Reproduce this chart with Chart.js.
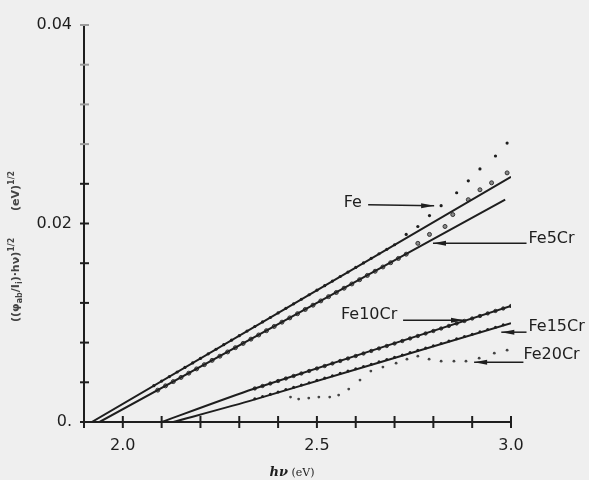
<!DOCTYPE html>
<html>
<head>
<meta charset="utf-8">
<script src="https://cdn.jsdelivr.net/npm/chart.js@4.4.0/dist/chart.umd.min.js"></script>
<style>
  html, body { margin: 0; padding: 0; background: #efefef; }
  #wrap { width: 589px; height: 480px; }
</style>
</head>
<body>
<div id="wrap"><canvas id="chart" width="589" height="480"></canvas></div>
<script>
// measured points, photon energy (eV) vs ((phi_ab/I_i).hv)^1/2
const feX = [2.08, 2.10, 2.12, 2.14, 2.16, 2.18, 2.20, 2.22, 2.24, 2.26, 2.28, 2.30, 2.32, 2.34, 2.36, 2.38,
  2.40, 2.42, 2.44, 2.46, 2.48, 2.50, 2.52, 2.54, 2.56, 2.58, 2.60, 2.62, 2.64, 2.66, 2.68, 2.70,
  2.73, 2.76, 2.79, 2.82, 2.86, 2.89, 2.92, 2.96, 2.99];
const feY = [0.00366, 0.00412, 0.00458, 0.00504, 0.00550, 0.00595, 0.00641, 0.00687, 0.00733, 0.00779,
  0.00824, 0.00870, 0.00916, 0.00962, 0.01008, 0.01053, 0.01099, 0.01145, 0.01191, 0.01237,
  0.01282, 0.01328, 0.01374, 0.01420, 0.01466, 0.01511, 0.01557, 0.01603, 0.01649, 0.01695,
  0.01740, 0.01786, 0.0189, 0.0197, 0.0208, 0.0218, 0.0231, 0.0243, 0.0255, 0.0268, 0.0281];

const fe5CrX = [2.09, 2.11, 2.13, 2.15, 2.17, 2.19, 2.21, 2.23, 2.25, 2.27, 2.29, 2.31, 2.33, 2.35, 2.37, 2.39,
  2.41, 2.43, 2.45, 2.47, 2.49, 2.51, 2.53, 2.55, 2.57, 2.59, 2.61, 2.63, 2.65, 2.67, 2.69, 2.71, 2.73,
  2.76, 2.79, 2.83, 2.85, 2.89, 2.92, 2.95, 2.99];
const fe5CrY = [0.00321, 0.00364, 0.00407, 0.00449, 0.00492, 0.00535, 0.00578, 0.00621, 0.00663, 0.00706,
  0.00749, 0.00792, 0.00835, 0.00877, 0.00920, 0.00963, 0.01006, 0.01049, 0.01091, 0.01134,
  0.01177, 0.01220, 0.01263, 0.01305, 0.01348, 0.01391, 0.01434, 0.01477, 0.01519, 0.01562,
  0.01605, 0.01648, 0.01691, 0.0180, 0.0189, 0.0197, 0.0209, 0.0224, 0.0234, 0.0241, 0.0251];

const fe10CrX = [2.34, 2.36, 2.38, 2.40, 2.42, 2.44, 2.46, 2.48, 2.50, 2.52, 2.54, 2.56, 2.58, 2.60, 2.62, 2.64,
  2.66, 2.68, 2.70, 2.72, 2.74, 2.76, 2.78, 2.80, 2.82, 2.84, 2.86, 2.88, 2.90, 2.92, 2.94, 2.96, 2.98, 3.00];
const fe10CrY = [0.00338, 0.00363, 0.00388, 0.00413, 0.00438, 0.00464, 0.00489, 0.00514, 0.00539, 0.00564,
  0.00590, 0.00615, 0.00640, 0.00665, 0.00690, 0.00716, 0.00741, 0.00766, 0.00791, 0.00816,
  0.00842, 0.00867, 0.00892, 0.00917, 0.00942, 0.00968, 0.00993, 0.01018, 0.01043, 0.01068,
  0.01094, 0.01119, 0.01144, 0.01169];

const fe15CrX = [2.34, 2.36, 2.38, 2.40, 2.42, 2.44, 2.46, 2.48, 2.50, 2.52, 2.54, 2.56, 2.58, 2.60, 2.62, 2.64,
  2.66, 2.68, 2.70, 2.72, 2.74, 2.76, 2.78, 2.80, 2.82, 2.84, 2.86, 2.88, 2.90, 2.92, 2.94, 2.96, 2.98];
const fe15CrY = [0.00233, 0.00257, 0.00280, 0.00303, 0.00327, 0.00350, 0.00373, 0.00396, 0.00420, 0.00443,
  0.00466, 0.00490, 0.00513, 0.00536, 0.00559, 0.00583, 0.00606, 0.00629, 0.00653, 0.00676,
  0.00699, 0.00722, 0.00746, 0.00769, 0.00792, 0.00816, 0.00839, 0.00862, 0.00885, 0.00909,
  0.00932, 0.00955, 0.00979];

const fe20CrX = [2.432, 2.453, 2.479, 2.505, 2.533, 2.556, 2.582, 2.611, 2.639, 2.670,
  2.704, 2.732, 2.760, 2.789, 2.820, 2.853, 2.884, 2.918, 2.957, 2.990];
const fe20CrY = [0.00251, 0.00231, 0.00241, 0.00251, 0.00251, 0.00271, 0.00332, 0.00422, 0.00513, 0.00553,
  0.00593, 0.00633, 0.00663, 0.00633, 0.00613, 0.00613, 0.00613, 0.00643, 0.00693, 0.00724];

// fitted lines
const feLineX = [1.92, 3.0];
const feLineY = [0, 0.0247];
const fe5CrLineX = [1.94, 2.985];
const fe5CrLineY = [0, 0.0224];
const fe10CrLineX = [2.10, 2.334, 3.0];
const fe10CrLineY = [0, 0.0033, 0.0117];
const fe15CrLineX = [2.13, 2.334, 3.0];
const fe15CrLineY = [0, 0.0022, 0.00995];

// tick labels
const xLabelValues = [2.0, 2.5, 3.0];
const xLabelTexts = ['2.0', '2.5', '3.0'];
const yLabelValues = [0, 0.02, 0.04];
const yLabelTexts = ['0.', '0.02', '0.04'];

const seriesNames = ['Fe', 'Fe5Cr', 'Fe10Cr', 'Fe15Cr', 'Fe20Cr'];

// where each name and its arrow sit, in data units
const nameSpots = [
  { at: [2.569, 0.0221], from: [2.632, 0.0219], to: [2.802, 0.0218] },
  { at: [3.045, 0.0185], from: [3.040, 0.0180], to: [2.799, 0.0180] },
  { at: [2.562, 0.01075], from: [2.722, 0.01025], to: [2.879, 0.01025] },
  { at: [3.045, 0.00955], from: [3.040, 0.00905], to: [2.975, 0.00905] },
  { at: [3.032, 0.00673], from: [3.032, 0.00603], to: [2.905, 0.00603] }
];

const zip = (xs, ys) => xs.map((x, i) => ({ x, y: ys[i] }));
const ink = '#1e1e1e';

function labelFor(values, texts, v) {
  const i = values.findIndex(t => Math.abs(t - v) < 1e-6);
  return i < 0 ? '' : texts[i];
}

function drawArrow(ctx, x1, y1, x2, y2) {
  ctx.beginPath();
  ctx.moveTo(x1, y1);
  ctx.lineTo(x2, y2);
  ctx.stroke();
  const dir = Math.sign(x2 - x1) || 1;
  ctx.beginPath();
  ctx.moveTo(x2, y2);
  ctx.lineTo(x2 - dir * 13, y2 - 2.5);
  ctx.lineTo(x2 - dir * 13, y2 + 2.5);
  ctx.closePath();
  ctx.fill();
}

const extras = {
  id: 'extras',
  afterDraw(chart) {
    const ctx = chart.ctx;
    const xs = chart.scales.x, ys = chart.scales.y;
    const area = chart.chartArea;
    ctx.save();

    // crossing tick marks
    ctx.lineWidth = 2;
    ctx.strokeStyle = ink;
    xs.ticks.forEach(t => {
      const px = xs.getPixelForValue(t.value);
      ctx.beginPath();
      ctx.moveTo(px, area.bottom - 6);
      ctx.lineTo(px, area.bottom + 6);
      ctx.stroke();
    });
    ys.ticks.forEach(t => {
      const py = ys.getPixelForValue(t.value);
      ctx.strokeStyle = t.value > 0.026 ? '#9c9c9c' : ink;
      ctx.beginPath();
      ctx.moveTo(area.left - 4, py);
      ctx.lineTo(area.left + 5, py);
      ctx.stroke();
    });

    // series names with arrows
    ctx.strokeStyle = ink;
    ctx.fillStyle = ink;
    ctx.lineWidth = 1.5;
    ctx.font = '16px "DejaVu Sans"';
    ctx.textAlign = 'left';
    ctx.textBaseline = 'middle';
    nameSpots.forEach((s, i) => {
      ctx.fillText(seriesNames[i], xs.getPixelForValue(s.at[0]), ys.getPixelForValue(s.at[1]));
      drawArrow(ctx,
        xs.getPixelForValue(s.from[0]), ys.getPixelForValue(s.from[1]),
        xs.getPixelForValue(s.to[0]), ys.getPixelForValue(s.to[1]));
    });

    // x axis title
    ctx.textBaseline = 'alphabetic';
    ctx.font = 'italic bold 13px "DejaVu Serif"';
    const w1 = ctx.measureText('hν').width;
    ctx.font = '11px "DejaVu Serif"';
    const w2 = ctx.measureText(' (eV)').width;
    let x0 = 292 - (w1 + w2) / 2;
    ctx.font = 'italic bold 13px "DejaVu Serif"';
    ctx.fillText('hν', x0, 476);
    ctx.font = '11px "DejaVu Serif"';
    ctx.fillText(' (eV)', x0 + w1, 476);

    // y axis title, rotated
    ctx.translate(19, 322);
    ctx.rotate(-Math.PI / 2);
    ctx.fillStyle = '#444';
    const parts = [
      ['((φ', 11, 0], ['ab', 8, 3], ['/I', 11, 0], ['i', 8, 3], [')·hν)', 11, 0], ['1/2', 8, -5],
      ['       (eV)', 11, 0], ['1/2', 8, -5]
    ];
    let cx = 0;
    parts.forEach(([txt, size, dy]) => {
      ctx.font = 'bold ' + size + 'px "DejaVu Sans"';
      ctx.fillText(txt, cx, dy);
      cx += ctx.measureText(txt).width;
    });
    ctx.restore();
  }
};

const lineStyle = { showLine: true, borderColor: ink, borderWidth: 2, pointRadius: 0, tension: 0.2, fill: false };

new Chart(document.getElementById('chart'), {
  type: 'scatter',
  data: {
    datasets: [
      { label: 'Fe fit', data: zip(feLineX, feLineY), ...lineStyle },
      { label: 'Fe5Cr fit', data: zip(fe5CrLineX, fe5CrLineY), ...lineStyle },
      { label: 'Fe10Cr fit', data: zip(fe10CrLineX, fe10CrLineY), ...lineStyle },
      { label: 'Fe15Cr fit', data: zip(fe15CrLineX, fe15CrLineY), ...lineStyle },
      { label: 'Fe', data: zip(feX, feY), pointRadius: 1.6, backgroundColor: ink, borderWidth: 0 },
      { label: 'Fe5Cr', data: zip(fe5CrX, fe5CrY), pointRadius: 2, backgroundColor: '#8a8a8a', borderColor: '#333', borderWidth: 1 },
      { label: 'Fe10Cr', data: zip(fe10CrX, fe10CrY), pointRadius: 1.7, backgroundColor: '#555', borderColor: ink, borderWidth: 0.8 },
      { label: 'Fe15Cr', data: zip(fe15CrX, fe15CrY), pointRadius: 1.5, backgroundColor: ink, borderWidth: 0 },
      { label: 'Fe20Cr', data: zip(fe20CrX, fe20CrY), pointRadius: 1.4, backgroundColor: '#444', borderWidth: 0 }
    ]
  },
  options: {
    responsive: false,
    animation: false,
    layout: { padding: { left: 0, top: 25, right: 78, bottom: 0 } },
    plugins: { legend: { display: false }, tooltip: { enabled: false } },
    scales: {
      x: {
        type: 'linear',
        min: 1.9,
        max: 3.0,
        afterFit: s => { s.height = 58; },
        grid: { display: true, drawOnChartArea: false, drawTicks: false },
        border: { display: true, color: ink, width: 2 },
        ticks: {
          stepSize: 0.1,
          autoSkip: false,
          maxRotation: 0,
          padding: 14,
          color: ink,
          font: { family: '"DejaVu Sans"', size: 16 },
          callback: v => labelFor(xLabelValues, xLabelTexts, v)
        }
      },
      y: {
        type: 'linear',
        min: 0,
        max: 0.04,
        afterFit: s => { s.width = 84; },
        grid: { display: true, drawOnChartArea: false, drawTicks: false },
        border: { display: true, color: ink, width: 2 },
        ticks: {
          stepSize: 0.004,
          autoSkip: false,
          padding: 12,
          color: ink,
          font: { family: '"DejaVu Sans"', size: 16 },
          callback: v => labelFor(yLabelValues, yLabelTexts, v)
        }
      }
    }
  },
  plugins: [extras]
});
</script>
</body>
</html>
